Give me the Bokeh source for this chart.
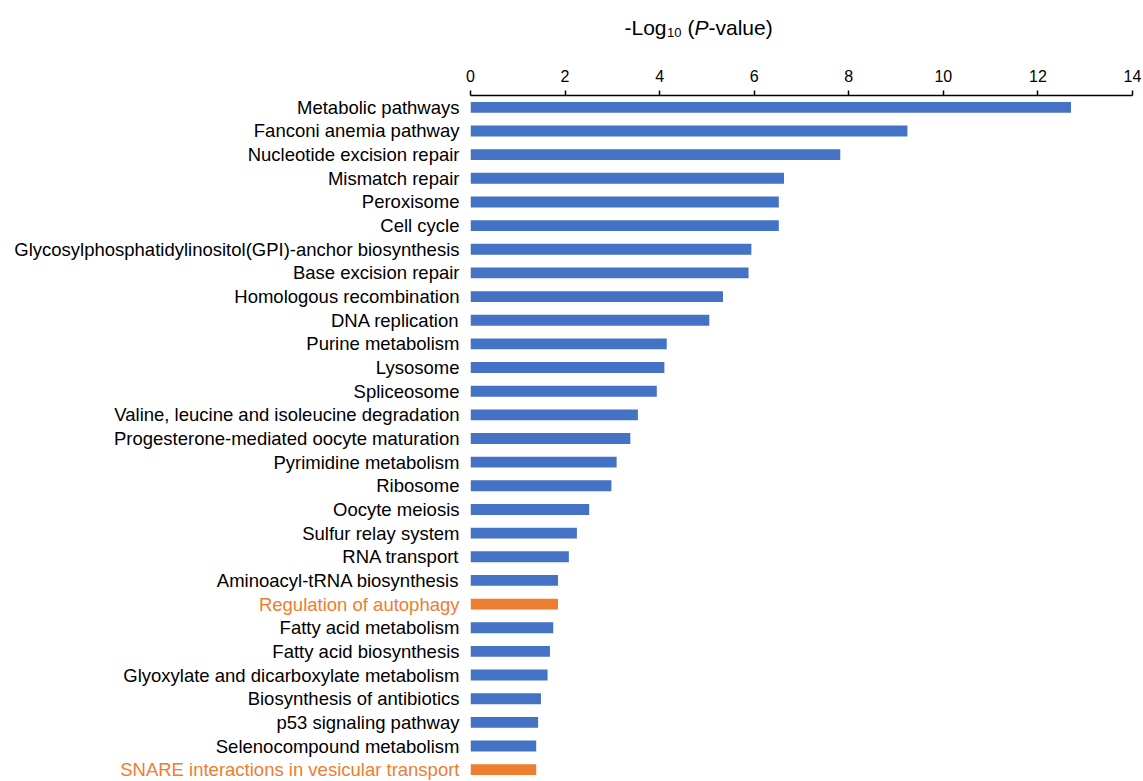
from bokeh.plotting import figure
from bokeh.layouts import column, row
from bokeh.models import ColumnDataSource, FactorRange, Range1d, FixedTicker
from bokeh.core.properties import value
from bokeh.embed import file_html
from bokeh.resources import INLINE

pathways = [
    "Metabolic pathways",
    "Fanconi anemia pathway",
    "Nucleotide excision repair",
    "Mismatch repair",
    "Peroxisome",
    "Cell cycle",
    "Glycosylphosphatidylinositol(GPI)-anchor biosynthesis",
    "Base excision repair",
    "Homologous recombination",
    "DNA replication",
    "Purine metabolism",
    "Lysosome",
    "Spliceosome",
    "Valine, leucine and isoleucine degradation",
    "Progesterone-mediated oocyte maturation",
    "Pyrimidine metabolism",
    "Ribosome",
    "Oocyte meiosis",
    "Sulfur relay system",
    "RNA transport",
    "Aminoacyl-tRNA biosynthesis",
    "Regulation of autophagy",
    "Fatty acid metabolism",
    "Fatty acid biosynthesis",
    "Glyoxylate and dicarboxylate metabolism",
    "Biosynthesis of antibiotics",
    "p53 signaling pathway",
    "Selenocompound metabolism",
    "SNARE interactions in vesicular transport",
]
neg_log10_p = [
    12.70, 9.24, 7.82, 6.63, 6.52, 6.52, 5.94, 5.88, 5.34, 5.05,
    4.15, 4.10, 3.94, 3.54, 3.38, 3.09, 2.98, 2.51, 2.25, 2.08,
    1.85, 1.85, 1.75, 1.68, 1.63, 1.49, 1.43, 1.39, 1.39,
]
highlighted = ["Regulation of autophagy", "SNARE interactions in vesicular transport"]
tick_values = [0, 2, 4, 6, 8, 10, 12, 14]
title_pieces = ["-Log", "10", "(", "P", "-value)"]

BLUE = "#4472C4"
ORANGE = "#ED7D31"
FONT = "Liberation Sans"

bar_colors = [ORANGE if n in highlighted else BLUE for n in pathways]
label_colors = [ORANGE if n in highlighted else "black" for n in pathways]
src = ColumnDataSource(dict(pathway=pathways, value=neg_log10_p,
                            color=bar_colors, label_color=label_colors))

TITLE_H = 60
TOP = 95 - TITLE_H
FRAME_H = 686
LABEL_W = 462
PAD_L = 470 - LABEL_W


def clean(f):
    f.outline_line_color = None
    f.grid.visible = False
    f.background_fill_color = "white"
    f.border_fill_color = "white"
    return f


# --- title strip ---
tf = figure(width=1143, height=TITLE_H, x_range=Range1d(0, 1143), y_range=Range1d(TITLE_H, 0),
            min_border=0, x_axis_location=None, y_axis_location=None,
            output_backend="svg", toolbar_location=None)
clean(tf)
tsrc = ColumnDataSource(dict(
    x=[624, 666.5, 687, 694, 708],
    y=[27, 31.5, 27, 27, 27],
    text=title_pieces,
    size=["21px", "13px", "21px", "21px", "21px"],
    style=["normal", "normal", "normal", "italic", "normal"],
))
tf.text(x="x", y="y", text="text", source=tsrc, text_font=value(FONT),
        text_font_size="size", text_font_style="style", text_color="black",
        text_baseline="alphabetic", text_align="left")

# --- bar chart ---
p = figure(
    frame_width=662, frame_height=FRAME_H,
    min_border_left=PAD_L, min_border_right=11, min_border_top=TOP, min_border_bottom=0,
    x_range=Range1d(0, 14),
    y_range=FactorRange(factors=pathways[::-1], range_padding=0),
    x_axis_location="above", y_axis_location=None,
    output_backend="svg", toolbar_location=None,
)
clean(p)
p.hbar(y="pathway", left=0, right="value", height=0.46, fill_color="color",
       line_color=None, source=src)

ax = p.xaxis[0]
ax.ticker = FixedTicker(ticks=tick_values)
ax.major_label_text_font = FONT
ax.major_label_text_font_size = "16px"
ax.major_label_text_color = "black"
ax.axis_line_color = "black"
ax.axis_line_width = 1.5
ax.major_tick_line_color = "black"
ax.major_tick_line_width = 1.5
ax.major_tick_out = 5
ax.major_tick_in = 0
ax.minor_tick_out = 0
ax.minor_tick_in = 0
ax.major_label_standoff = 9

# --- category labels ---
lf = figure(
    frame_width=LABEL_W, frame_height=FRAME_H,
    min_border_left=0, min_border_right=0, min_border_top=TOP, min_border_bottom=0,
    x_range=Range1d(0, 1), y_range=p.y_range,
    x_axis_location=None, y_axis_location=None,
    output_backend="svg", toolbar_location=None,
)
clean(lf)
lf.text(x=1, y="pathway", text="pathway", source=src, text_color="label_color",
        x_offset=-3, text_align="right", text_baseline="middle",
        text_font=value(FONT), text_font_size="18.5px")

layout = column(tf, row(lf, p, spacing=0), spacing=0)
open("out.html", "w").write(file_html(layout, INLINE))
